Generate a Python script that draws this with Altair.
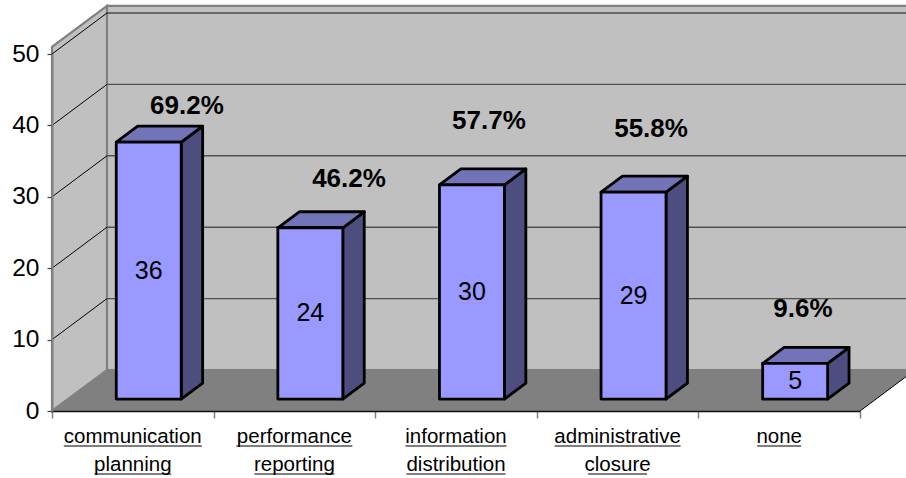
import altair as alt
import pandas as pd

# Chart values
categories = ["communication planning", "performance reporting",
              "information distribution", "administrative closure", "none"]
counts = [36, 24, 30, 29, 5]
percent_labels = ["69.2%", "46.2%", "57.7%", "55.8%", "9.6%"]
percent_x = [0.835, 1.838, 2.704, 3.707, 4.647]   # in category units
percent_y = [42.7, 32.5, 40.6, 39.5, 14.3]        # in count units
y_ticks = [0, 10, 20, 30, 40, 50]
x_ticks = [0, 1, 2, 3, 4, 5]

# Category label lines with their underline widths (category units)
label_lines = [
    [("communication", 0.854), ("planning", 0.476)],
    [("performance", 0.718), ("reporting", 0.495)],
    [("information", 0.625), ("distribution", 0.613)],
    [("administrative", 0.780), ("closure", 0.365)],
    [("none", 0.272)],
]

# Oblique projection: a point at depth d (0 front, 1 back) shifts right and up
DEPTH_X = 0.34
DEPTH_Y = 5.74
WALL_TOP = 51
BAR_WIDTH = 0.402
BAR_D0 = 0.29
BAR_D1 = 0.68

FONT = "Liberation Sans"
x_scale = alt.Scale(domain=[0, 5], nice=False, zero=False)
y_scale = alt.Scale(domain=[0, 50], nice=False, zero=False)

# Every layer shares the same axis definitions so that they merge into one
x_axis = alt.Axis(
    values=x_ticks, labels=False, tickSize=7, tickColor="#808080", tickWidth=1.5,
    domainColor="#101010", domainWidth=1.5, grid=False, zindex=1, title=None)
y_axis = alt.Axis(
    values=y_ticks, tickSize=5, tickColor="#404040", tickWidth=1.2,
    domainColor="#808080", domainWidth=2, grid=False, zindex=1, title=None,
    labelFont=FONT, labelFontSize=24.5, labelColor="#000000", labelPadding=8)


def px(i, d=0.0):
    return i + d * DEPTH_X


def py(v, d=0.0):
    return v + d * DEPTH_Y


def X(field="x"):
    return alt.X(f"{field}:Q", scale=x_scale, axis=x_axis)


def Y(field="y"):
    return alt.Y(f"{field}:Q", scale=y_scale, axis=y_axis)


# Back wall
back_wall = alt.Chart(pd.DataFrame([{
    "x": px(0, 1), "x2": px(5, 1), "y": py(0, 1), "y2": py(WALL_TOP, 1)
}])).mark_rect(fill="#C0C0C0", stroke="#808080", strokeWidth=2.2).encode(
    x=X(), x2="x2:Q", y=Y(), y2="y2:Q"
)

# Left wall
left_wall = alt.Chart(pd.DataFrame([
    {"x": px(0, d), "y": py(0, d), "y2": py(WALL_TOP, d)} for d in (0, 1)
])).mark_area(fill="#C0C0C0", stroke="#808080", strokeWidth=2.2).encode(
    x=X(), y=Y(), y2="y2:Q"
)

# Floor
floor = alt.Chart(pd.DataFrame([
    {"y": py(0, d), "x": px(0, d), "x2": px(5, d)} for d in (0, 1)
])).mark_area(orient="horizontal", fill="#808080").encode(
    y=Y(), x=X(), x2="x2:Q"
)

# Gridlines on the back wall and across the left wall
back_grid = alt.Chart(pd.DataFrame([
    {"x": px(0, 1), "x2": px(5, 1), "y": py(v, 1), "y2": py(v, 1)}
    for v in y_ticks if 0 < v < 50
])).mark_rule(color="#505050", strokeWidth=1.4).encode(
    x=X(), x2="x2:Q", y=Y(), y2="y2:Q"
)

back_grid_top = alt.Chart(pd.DataFrame([
    {"x": px(0, 1), "x2": px(5, 1), "y": py(50, 1), "y2": py(50, 1)}
])).mark_rule(color="#101010", strokeWidth=1).encode(
    x=X(), x2="x2:Q", y=Y(), y2="y2:Q"
)

side_grid = alt.Chart(pd.DataFrame([
    {"x": px(0, 0), "x2": px(0, 1), "y": py(v, 0), "y2": py(v, 1)}
    for v in y_ticks if v > 0
])).mark_rule(color="#000000", strokeWidth=1).encode(
    x=X(), x2="x2:Q", y=Y(), y2="y2:Q"
)

floor_edge = alt.Chart(pd.DataFrame([
    {"x": px(5, 0), "x2": px(5, 1), "y": py(0, 0), "y2": py(0, 1)}
])).mark_rule(color="#000000", strokeWidth=1).encode(
    x=X(), x2="x2:Q", y=Y(), y2="y2:Q"
)

# Bar geometry
fronts, sides, tops, values_text = [], [], [], []
for i, (name, n) in enumerate(zip(categories, counts)):
    left = i + 0.5 - BAR_WIDTH / 2
    right = left + BAR_WIDTH
    fronts.append({"name": name, "x": px(left, BAR_D0), "x2": px(right, BAR_D0),
                   "y": py(0, BAR_D0), "y2": py(n, BAR_D0)})
    for d in (BAR_D0, BAR_D1):
        sides.append({"name": name, "x": px(right, d), "y": py(0, d), "y2": py(n, d)})
        tops.append({"name": name, "y": py(n, d), "x": px(left, d), "x2": px(right, d)})
    values_text.append({"x": px(i + 0.5, BAR_D0), "y": py(n / 2, BAR_D0), "label": str(n)})

BAR_LINE = dict(stroke="#000000", strokeWidth=2.8, strokeJoin="round")

bar_side = alt.Chart(pd.DataFrame(sides)).mark_area(fill="#4D4D80", **BAR_LINE).encode(
    x=X(), y=Y(), y2="y2:Q", detail="name:N"
)
bar_top = alt.Chart(pd.DataFrame(tops)).mark_area(
    orient="horizontal", fill="#7373B8", **BAR_LINE
).encode(y=Y(), x=X(), x2="x2:Q", detail="name:N")
bar_front = alt.Chart(pd.DataFrame(fronts)).mark_rect(fill="#9999FF", **BAR_LINE).encode(
    x=X(), x2="x2:Q", y=Y(), y2="y2:Q"
)

value_labels = alt.Chart(pd.DataFrame(values_text)).mark_text(
    font=FONT, fontSize=25, color="#000000", baseline="middle", align="center"
).encode(x=X(), y=Y(), text="label:N")

percents = alt.Chart(pd.DataFrame({
    "x": percent_x, "y": percent_y, "label": percent_labels
})).mark_text(
    font=FONT, fontSize=26, fontWeight="bold", color="#000000",
    baseline="middle", align="center"
).encode(x=X(), y=Y(), text="label:N")

# Category labels, two lines each, underlined
LINE_DY = [32, 60]
UNDER_DY = [35, 63]
cat_layers = []
for row in (0, 1):
    rows = [
        {"x": i + 0.5, "x1": i + 0.5 - w / 2, "x2": i + 0.5 + w / 2, "y": 0, "label": t}
        for i, lines in enumerate(label_lines) if len(lines) > row
        for t, w in [lines[row]]
    ]
    df = pd.DataFrame(rows)
    cat_layers.append(alt.Chart(df).mark_text(
        font=FONT, fontSize=20.5, color="#000000", baseline="alphabetic",
        align="center", dy=LINE_DY[row]
    ).encode(x=X(), y=Y(), text="label:N"))
    cat_layers.append(alt.Chart(df).mark_rule(
        color="#000000", strokeWidth=1.2, yOffset=UNDER_DY[row]
    ).encode(x=X("x1"), x2="x2:Q", y=Y()))

chart = alt.layer(
    back_wall, left_wall, floor, back_grid, back_grid_top, side_grid, floor_edge,
    bar_side, bar_top, bar_front, value_labels, percents, *cat_layers
).properties(
    width=808, height=357,
    padding={"left": 52, "top": 54, "right": 46, "bottom": 67},
    autosize=alt.AutoSizeParams(type="none"),
    background="#FFFFFF",
).configure_view(stroke=None)

chart.save("out.html", embed_options={"renderer": "svg", "actions": False})
